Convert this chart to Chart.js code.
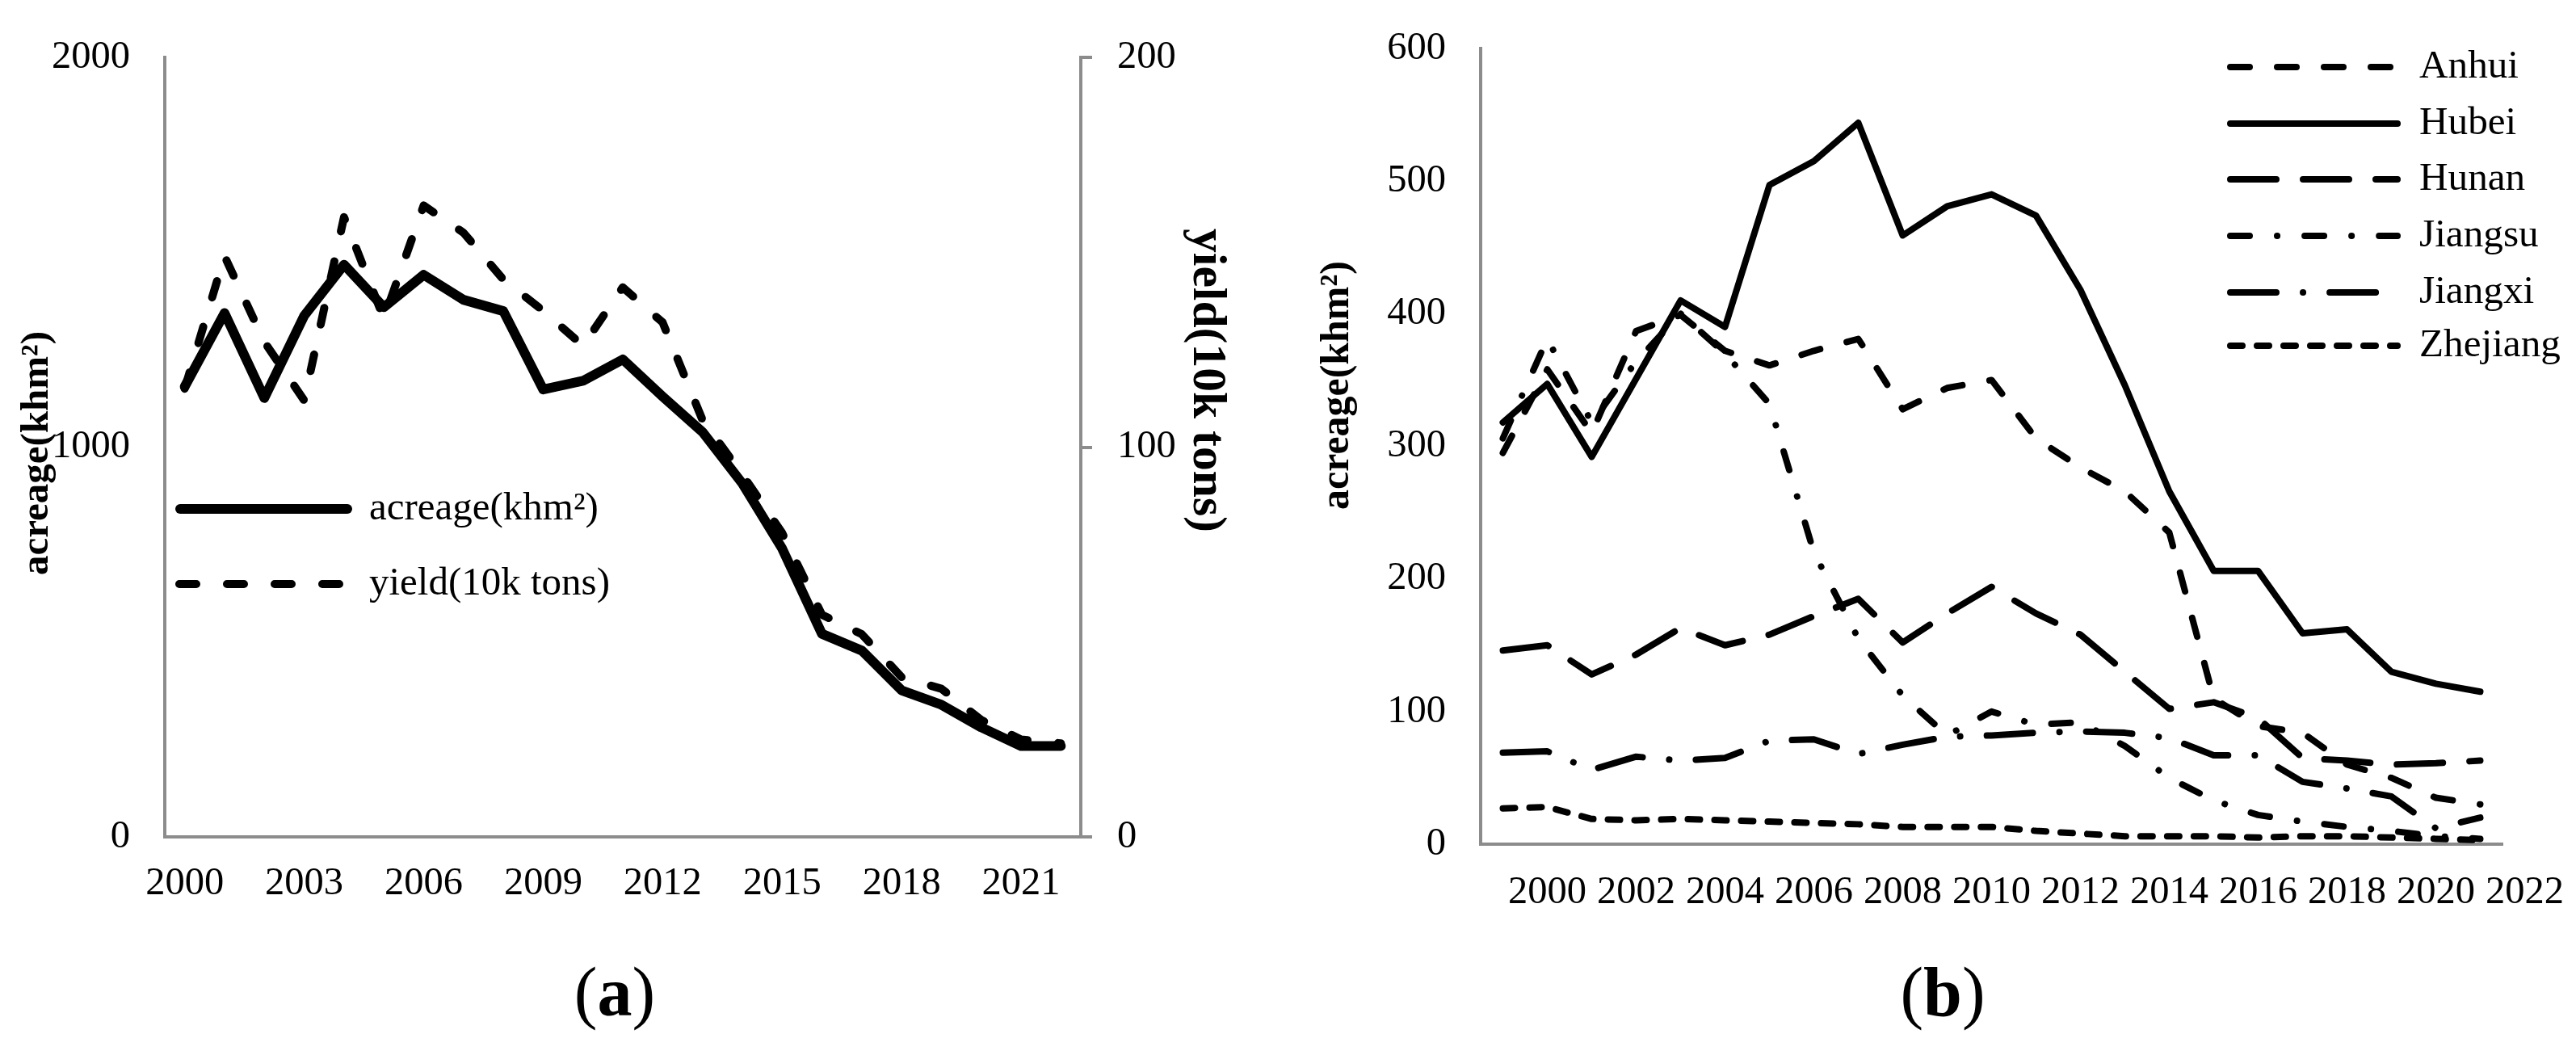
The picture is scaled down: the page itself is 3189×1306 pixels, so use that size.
<!DOCTYPE html>
<html>
<head>
<meta charset="utf-8">
<script src="https://cdn.jsdelivr.net/npm/chart.js@4.4.1/dist/chart.umd.min.js"></script>
<style>
  html, body { margin: 0; padding: 0; background: #fff; }
  #wrap { position: relative; width: 3189px; height: 1306px; overflow: hidden; background: #fff; }
  canvas { position: absolute; top: 0; }
  #ca { left: 0; }
  #cb { left: 1600px; }
  .cap { position: absolute; top: 1178px; width: 300px; height: 100px; line-height: 100px;
         font-family: 'Liberation Serif', 'Times New Roman', serif; font-size: 86px; color: #000; text-align: center; }
</style>
</head>
<body>
<div id="wrap">
  <canvas id="ca" width="1600" height="1306"></canvas>
  <canvas id="cb" width="1589" height="1306"></canvas>
  <div class="cap" style="left:611px">(<b>a</b>)</div>
  <div class="cap" style="left:2255px">(<b>b</b>)</div>
</div>
<script>
// ---------- Panel (a) data ----------
const yearsA = [2000, 2001, 2002, 2003, 2004, 2005, 2006, 2007, 2008, 2009, 2010, 2011,
                2012, 2013, 2014, 2015, 2016, 2017, 2018, 2019, 2020, 2021, 2022];
const acreageA = [1155, 1344, 1126, 1337, 1468, 1359, 1442, 1378, 1349, 1148, 1170, 1225,
                  1130, 1039, 907, 740, 521, 478, 376, 339, 281, 233, 233];
const yieldA = [115, 149, 127, 112, 159, 133, 162, 155, 143, 135, 126, 141,
                132, 107, 93, 78, 57, 52, 41, 38, 30, 25, 24];
const leftTicksA = [0, 1000, 2000];
const rightTicksA = [0, 100, 200];

// ---------- Panel (b) data ----------
const yearsB = [1999, 2000, 2001, 2002, 2003, 2004, 2005, 2006, 2007, 2008, 2009, 2010,
                2011, 2012, 2013, 2014, 2015, 2016, 2017, 2018, 2019, 2020, 2021];
const tickYearsB = [2000, 2002, 2004, 2006, 2008, 2010, 2012, 2014, 2016, 2018, 2020, 2022];
const anhui    = [295, 358, 310, 387, 399, 372, 361, 372, 381, 328, 344, 350,
                  306, 284, 266, 235, 110, 89, 84, 60, 50, 35, 30];
const hubei    = [318, 347, 292, 351, 410, 390, 497, 515, 544, 459, 481, 490,
                  474, 418, 346, 266, 206, 206, 159, 162, 130, 121, 115];
const hunan    = [146, 150, 128, 143, 163, 150, 158, 172, 185, 152, 174, 194,
                  174, 158, 130, 102, 107, 95, 65, 63, 60, 61, 63];
const jiangsu  = [306, 381, 318, 364, 400, 370, 332, 220, 155, 112, 82, 100,
                  90, 92, 74, 50, 33, 22, 17, 13, 10, 6, 4];
const jiangxi  = [69, 70, 56, 66, 63, 65, 78, 79, 68, 75, 81, 82,
                  84, 85, 84, 80, 67, 67, 47, 42, 36, 12, 20];
const zhejiang = [27, 28, 19, 18, 19, 18, 17, 16, 15, 13, 13, 13,
                  10, 8, 6, 6, 6, 5, 6, 6, 5, 4, 3];
const leftTicksB = [0, 100, 200, 300, 400, 500, 600];

// ---------- styling ----------
const SERIF = "'Liberation Serif', 'Times New Roman', serif";
const AXIS = '#8c8c8c';

// font size that makes `text` span `target` pixels
const mctx = document.createElement('canvas').getContext('2d');
function fitSize(text, weight, target) {
  mctx.font = weight + ' 100px ' + SERIF;
  return 100 * target / mctx.measureText(text).width;
}
const TICK_SIZE = fitSize('2000', 'normal', 97);

Chart.defaults.font.family = SERIF;
Chart.defaults.font.size = TICK_SIZE;
Chart.defaults.color = '#000';

function titlesPlugin(items) {
  return {
    id: 'axisTitles',
    afterDraw(chart) {
      const ctx = chart.ctx;
      items.forEach(it => {
        const size = fitSize(it.text, 'bold', it.len);
        ctx.save();
        ctx.translate(it.x, it.y);
        ctx.rotate(it.rotation * Math.PI / 180);
        ctx.font = 'bold ' + size + 'px ' + SERIF;
        ctx.fillStyle = '#000';
        ctx.textAlign = 'center';
        ctx.textBaseline = 'middle';
        ctx.fillText(it.text, 0, 0);
        ctx.restore();
      });
    }
  };
}

function legendPlugin(cfg) {
  return {
    id: 'lineLegend',
    afterDraw(chart) {
      const ctx = chart.ctx;
      const size = fitSize(cfg.refText, 'normal', cfg.refLen);
      chart.data.datasets.forEach((ds, i) => {
        const y = cfg.rows[i];
        const w = ds.borderWidth;
        ctx.save();
        ctx.strokeStyle = ds.borderColor;
        ctx.lineWidth = w;
        ctx.lineCap = 'round';
        ctx.setLineDash(ds.borderDash || []);
        ctx.beginPath();
        ctx.moveTo(cfg.x1 + w / 2, y);
        ctx.lineTo(cfg.x2 - w / 2, y);
        ctx.stroke();
        ctx.setLineDash([]);
        ctx.font = size + 'px ' + SERIF;
        ctx.fillStyle = '#000';
        ctx.textAlign = 'left';
        ctx.textBaseline = 'middle';
        ctx.fillText(ds.label, cfg.textX, y);
        ctx.restore();
      });
    }
  };
}

function lineDs(label, data, width, dash, axis) {
  return {
    label, data, yAxisID: axis,
    borderColor: '#000', backgroundColor: '#000',
    borderWidth: width, borderDash: dash,
    borderCapStyle: 'round', borderJoinStyle: 'round',
    pointRadius: 0, pointHoverRadius: 0, fill: false, tension: 0
  };
}

// ---------- Chart (a) ----------
new Chart(document.getElementById('ca'), {
  type: 'line',
  data: {
    labels: yearsA.map(String),
    datasets: [
      lineDs('acreage(khm²)', acreageA, 12, [], 'y'),
      lineDs('yield(10k tons)', yieldA, 10, [21, 38], 'y1')
    ]
  },
  options: {
    responsive: false, animation: false, devicePixelRatio: 1,
    layout: { padding: { top: 71, left: 0, right: 0, bottom: 0 } },
    plugins: { legend: { display: false }, tooltip: { enabled: false } },
    scales: {
      x: {
        type: 'category', offset: true,
        grid: { display: false, drawTicks: false },
        border: { display: true, color: AXIS, width: 4 },
        ticks: {
          autoSkip: false, maxRotation: 0, minRotation: 0, padding: 29,
          callback(v, i) { return i % 3 === 0 ? this.getLabelForValue(v) : ''; }
        },
        afterFit(s) { s.height = 270; s.paddingLeft = 0; s.paddingRight = 0; }
      },
      y: {
        position: 'left', min: leftTicksA[0], max: leftTicksA[leftTicksA.length - 1],
        grid: { display: false, drawTicks: false },
        border: { display: true, color: AXIS, width: 4 },
        afterBuildTicks(s) { s.ticks = leftTicksA.map(v => ({ value: v })); },
        ticks: { padding: 43, callback: v => String(v) },
        afterFit(s) { s.width = 204; s.paddingTop = 0; s.paddingBottom = 0; }
      },
      y1: {
        position: 'right', min: rightTicksA[0], max: rightTicksA[rightTicksA.length - 1],
        grid: { display: true, drawOnChartArea: false, drawTicks: true, tickLength: 14, color: AXIS, lineWidth: 4 },
        border: { display: true, color: AXIS, width: 4 },
        afterBuildTicks(s) { s.ticks = rightTicksA.map(v => ({ value: v })); },
        ticks: { padding: 31, callback: v => String(v) },
        afterFit(s) { s.width = 262; s.paddingTop = 0; s.paddingBottom = 0; }
      }
    }
  },
  plugins: [
    titlesPlugin([
      { text: 'acreage(khm²)', x: 46, y: 561, rotation: -90, len: 302 },
      { text: 'yield(10k tons)', x: 1493, y: 471, rotation: 90, len: 376 }
    ]),
    legendPlugin({ x1: 217, x2: 436, textX: 457, rows: [630, 723], refText: 'yield(10k tons)', refLen: 298 })
  ]
});

// ---------- Chart (b) ----------
const pts = arr => yearsB.map((yr, i) => ({ x: yr, y: arr[i] }));
new Chart(document.getElementById('cb'), {
  type: 'line',
  data: {
    datasets: [
      lineDs('Anhui', pts(anhui), 8, [24, 34], 'y'),
      lineDs('Hubei', pts(hubei), 8, [], 'y'),
      lineDs('Hunan', pts(hunan), 8, [57, 33], 'y'),
      lineDs('Jiangsu', pts(jiangsu), 8, [24, 34, 0.1, 34], 'y'),
      lineDs('Jiangxi', pts(jiangxi), 8, [57, 33, 0.1, 33], 'y'),
      lineDs('Zhejiang', pts(zhejiang), 8, [15, 18], 'y')
    ]
  },
  options: {
    responsive: false, animation: false, devicePixelRatio: 1,
    layout: { padding: { top: 60, left: 0, right: 91, bottom: 0 } },
    plugins: { legend: { display: false }, tooltip: { enabled: false } },
    scales: {
      x: {
        type: 'linear', min: yearsB[0] - 0.5, max: yearsB[yearsB.length - 1] + 0.5,
        grid: { display: false, drawTicks: false },
        border: { display: true, color: AXIS, width: 4 },
        afterBuildTicks(s) { s.ticks = tickYearsB.map(v => ({ value: v })); },
        ticks: { autoSkip: false, maxRotation: 0, minRotation: 0, padding: 31, callback: v => String(v) },
        afterFit(s) { s.height = 261; s.paddingLeft = 0; s.paddingRight = 0; }
      },
      y: {
        position: 'left', min: leftTicksB[0], max: leftTicksB[leftTicksB.length - 1],
        grid: { display: false, drawTicks: false },
        border: { display: true, color: AXIS, width: 4 },
        afterBuildTicks(s) { s.ticks = leftTicksB.map(v => ({ value: v })); },
        ticks: { padding: 43, callback: v => String(v) },
        afterFit(s) { s.width = 233; s.paddingTop = 0; s.paddingBottom = 0; }
      }
    }
  },
  plugins: [
    titlesPlugin([
      { text: 'acreage(khm²)', x: 56, y: 477, rotation: -90, len: 308 }
    ]),
    legendPlugin({ x1: 1157, x2: 1372, textX: 1395, rows: [83, 153, 222, 292, 362, 428], refText: 'Zhejiang', refLen: 175 })
  ]
});
</script>
</body>
</html>
